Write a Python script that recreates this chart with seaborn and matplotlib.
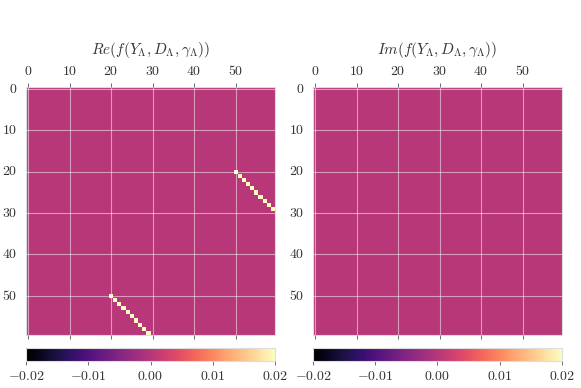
import matplotlib

matplotlib.use("Agg")

import matplotlib.pyplot as plt
import matplotlib.ticker as mticker
import numpy as np
import seaborn as sns

# matrix size and the non-zero entries of the real part
size = 60
re_upper_rows = [20, 21, 22, 23, 24, 25, 26, 27, 28, 29]
re_upper_cols = [50, 51, 52, 53, 54, 55, 56, 57, 58, 59]
re_lower_rows = [50, 51, 52, 53, 54, 55, 56, 57, 58, 59]
re_lower_cols = [20, 21, 22, 23, 24, 25, 26, 27, 28, 29]
diag_value = 1.0

titles = [r"$Re(f(Y_\Lambda, D_\Lambda, \gamma_\Lambda))$",
          r"$Im(f(Y_\Lambda, D_\Lambda, \gamma_\Lambda))$"]
axis_ticks = [0, 10, 20, 30, 40, 50]
cbar_ticks = [-0.02, -0.01, 0.00, 0.01, 0.02]
vmin, vmax = -0.02, 0.02

re_part = np.zeros((size, size))
re_part[re_upper_rows, re_upper_cols] = diag_value
re_part[re_lower_rows, re_lower_cols] = diag_value
im_part = np.zeros((size, size))

sns.set_style("white")
plt.rcParams["font.family"] = ["cmr10", "DejaVu Sans"]
plt.rcParams["mathtext.fontset"] = "cm"
plt.rcParams["axes.formatter.use_mathtext"] = True

fig = plt.figure(figsize=(5.81, 3.88), dpi=100)
axes_pos = [[0.0448, 0.1366, 0.4286, 0.639], [0.5387, 0.1366, 0.4286, 0.639]]
cbar_pos = [[0.0448, 0.0696, 0.4286, 0.0335], [0.5387, 0.0696, 0.4286, 0.0335]]

tick_fmt = mticker.FuncFormatter(lambda v, p: f"${int(v - 0.5)}$")

for data, title, apos, cpos in zip([re_part, im_part], titles, axes_pos, cbar_pos):
    ax = fig.add_axes(apos)
    cax = fig.add_axes(cpos)
    sns.heatmap(data, ax=ax, cmap="magma", vmin=vmin, vmax=vmax,
                cbar_ax=cax, cbar_kws={"orientation": "horizontal", "ticks": cbar_ticks})
    ax.set_xticks(np.array(axis_ticks) + 0.5)
    ax.set_yticks(np.array(axis_ticks) + 0.5)
    ax.xaxis.set_major_formatter(tick_fmt)
    ax.yaxis.set_major_formatter(tick_fmt)
    ax.tick_params(top=True, bottom=True, labeltop=True, labelbottom=False,
                   left=False, labelsize=10, length=3, width=0.6,
                   color="#555555", labelcolor="#333333", labelrotation=0)
    ax.tick_params(axis="y", labelrotation=0)
    ax.set_axisbelow(False)
    ax.grid(True, color="white", alpha=0.5, linewidth=0.8)
    for sp in ax.spines.values():
        sp.set_visible(True)
        sp.set_color("#dddddd")
        sp.set_linewidth(0.8)
    ax.set_title(title, fontsize=11, pad=24, color="#333333")

    cax.xaxis.set_major_formatter(mticker.FuncFormatter(lambda v, p: f"${v:.2f}$"))
    cax.tick_params(labelsize=10, length=3, width=0.6, color="#555555",
                    labelcolor="#333333")
    cax.minorticks_off()
    cbar = ax.collections[0].colorbar
    cbar.outline.set_edgecolor("#dddddd")
    cbar.outline.set_linewidth(0.8)

fig.savefig("out.png", dpi=100)
